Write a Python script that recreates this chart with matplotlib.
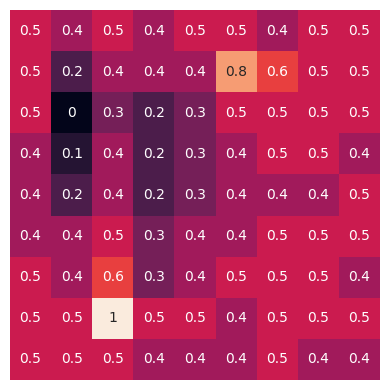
import numpy as np
import matplotlib
matplotlib.use("Agg")
import matplotlib.pyplot as plt
import seaborn as sns

row0 = [0.5, 0.4, 0.5, 0.4, 0.5, 0.5, 0.4, 0.5, 0.5]
row1 = [0.5, 0.2, 0.4, 0.4, 0.4, 0.8, 0.6, 0.5, 0.5]
row2 = [0.5, 0.0, 0.3, 0.2, 0.3, 0.5, 0.5, 0.5, 0.5]
row3 = [0.4, 0.1, 0.4, 0.2, 0.3, 0.4, 0.5, 0.5, 0.4]
row4 = [0.4, 0.2, 0.4, 0.2, 0.3, 0.4, 0.4, 0.4, 0.5]
row5 = [0.4, 0.4, 0.5, 0.3, 0.4, 0.4, 0.5, 0.5, 0.5]
row6 = [0.5, 0.4, 0.6, 0.3, 0.4, 0.5, 0.5, 0.5, 0.4]
row7 = [0.5, 0.5, 1.0, 0.5, 0.5, 0.4, 0.5, 0.5, 0.5]
row8 = [0.5, 0.5, 0.5, 0.4, 0.4, 0.4, 0.5, 0.4, 0.4]

grid = np.array([row0, row1, row2, row3, row4, row5, row6, row7, row8])

fig = plt.figure(figsize=(3.89, 3.89), dpi=100)
ax = fig.add_axes([10 / 389, 9 / 389, 370 / 389, 370 / 389])
sns.heatmap(grid, annot=True, fmt="g", cmap="rocket", vmin=0, vmax=1,
            cbar=False, square=True, ax=ax)
ax.axis("off")

fig.savefig("out.png", dpi=100)
